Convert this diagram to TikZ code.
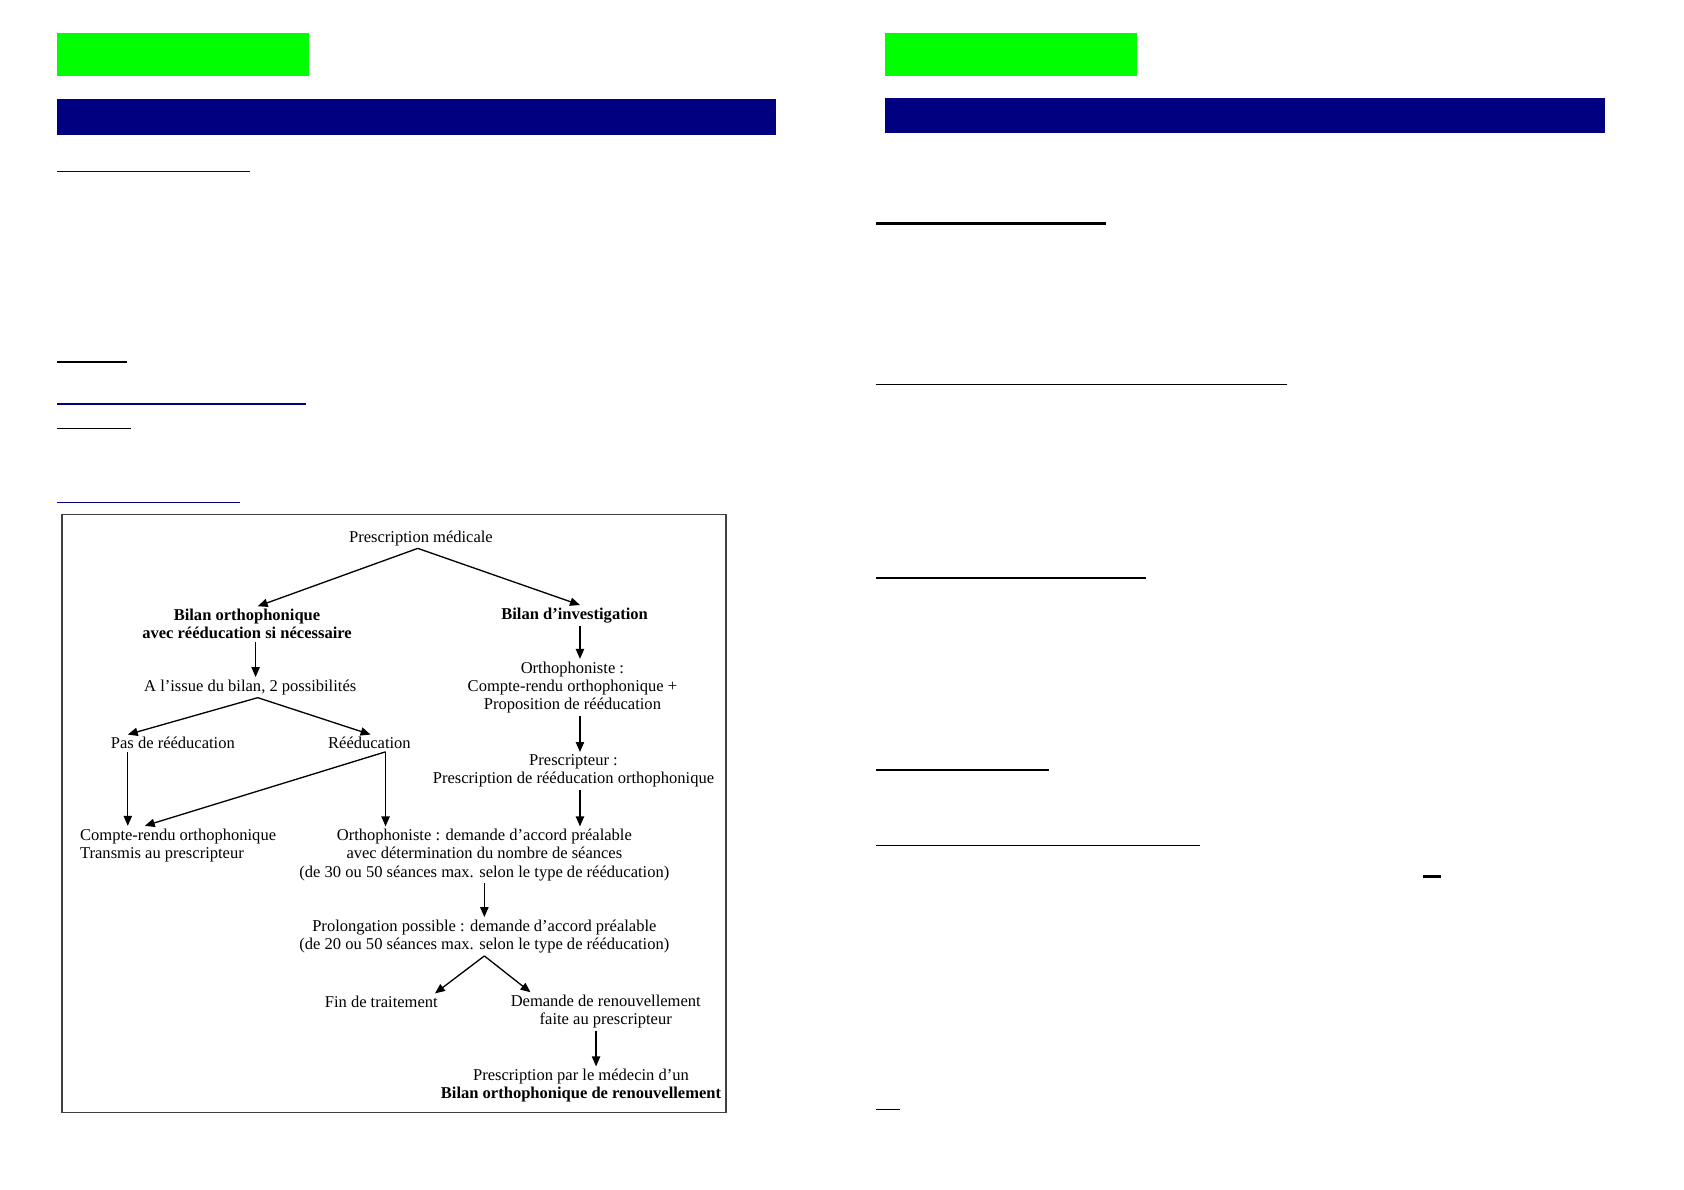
\documentclass[tikz,border=0pt]{standalone}
\usepackage{fontspec}
\setmainfont{Liberation Serif}
\usetikzlibrary{arrows.meta}
\usetikzlibrary{calc}
\definecolor{navy}{HTML}{000080}
\definecolor{lime}{HTML}{00FF00}

\begin{document}
\begin{tikzpicture}[x=0.65pt, y=-0.65pt,
    txt/.style={inner sep=1.5pt, align=center, font=\fontsize{10}{11}\selectfont},
    bold/.style={font=\fontsize{10}{11}\selectfont\bfseries},
    arr/.style={-{Triangle[length=6pt,width=5pt]}, line width=0.8pt},
    rule/.style={line width=0.7pt}]
    \useasboundingbox (0,0) rectangle (1568,1108);
    % page headers
    \fill[lime] (53,31) rectangle (288,71);
    \fill[navy] (53,92) rectangle (723,126);
    \fill[lime] (824,31) rectangle (1059,71);
    \fill[navy] (824,91) rectangle (1494,124);
    % underlines
    \draw[rule, navy] (53,160) -- (233,160);
    \draw[rule] (53,337) -- (118,337);
    \draw[rule, navy, line width=1.5pt] (53,376) -- (285,376);
    \draw[rule] (53,399) -- (122,399);
    \draw[rule, navy] (53,468) -- (223,468);
    \draw[rule, line width=1.5pt] (816,208) -- (1030,208);
    \draw[rule] (816,358) -- (1198,358);
    \draw[rule, line width=1pt] (816,538) -- (1067,538);
    \draw[rule] (816,717) -- (977,717);
    \draw[rule] (816,787) -- (1117,787);
    \draw[rule, line width=1.5pt] (1325,816) -- (1342,816);
    \draw[rule] (816,1033) -- (838,1033);
    % flowchart
    \draw[black!75, line width=1pt, fill=white] (58,479) rectangle (676,1036);

    \node[txt] (presc) at (392,501) {Prescription médicale};
    \node[txt, bold] (bortho) at (230,581) {Bilan orthophonique\\avec rééducation si nécessaire};
    \node[txt, bold] (binv) at (535,573) {Bilan d’investigation};
    \node[txt] (issue) at (233,640) {A l’issue du bilan, 2 possibilités};
    \node[txt] (pas) at (161,692) {Pas de rééducation};
    \node[txt] (reed) at (344,692) {Rééducation};
    \node[txt, anchor=west, align=left] (crendu) at (72,787) {Compte-rendu orthophonique\\Transmis au prescripteur};
    \node[txt] (ortho) at (533,640) {Orthophoniste :\\Compte-rendu orthophonique +\\Proposition de rééducation};
    \node[txt] (prescr) at (534,718) {Prescripteur :\\Prescription de rééducation orthophonique};
    \node[txt] (accord) at (451,796) {Orthophoniste : demande d’accord préalable\\avec détermination du nombre de séances\\(de 30 ou 50 séances max. selon le type de rééducation)};
    \node[txt] (prolong) at (451,872) {Prolongation possible : demande d’accord préalable\\(de 20 ou 50 séances max. selon le type de rééducation)};
    \node[txt] (fin) at (355,933) {Fin de traitement};
    \node[txt] (renouv) at (564,942) {Demande de renouvellement\\faite au prescripteur};
    \node[txt] (bren) at (541,1011) {Prescription par le médecin d’un\\\textbf{Bilan orthophonique de renouvellement}};

    \draw[arr] ($(presc.south)+(-3,0)$) -- ($(bortho.north)+(10,0)$);
    \draw[arr] ($(presc.south)+(-3,0)$) -- ($(binv.north)+(5,0)$);
    \draw[arr] ($(bortho.south)+(8,0)$) -- ($(issue.north)+(5,0)$);
    \draw[arr] ($(issue.south)+(7,0)$) -- ($(pas.north)+(-42,0)$);
    \draw[arr] ($(issue.south)+(7,0)$) -- ($(reed.north)+(1,0)$);
    \coordinate (pasout) at ($(pas.south)+(-42,0)$);
    \draw[arr] (pasout) -- (pasout |- crendu.north);
    \draw[arr] ($(reed.south)+(15,0)$) -- ($(crendu.north)+(-31,0)$);
    \draw[arr] ($(reed.south)+(15,0)$) -- ($(accord.north)+(-92,0)$);
    \draw[arr] ($(binv.south)+(5,0)$) -- ($(ortho.north)+(7,0)$);
    \draw[arr] ($(ortho.south)+(7,0)$) -- ($(prescr.north)+(6,0)$);
    \draw[arr] ($(prescr.south)+(6,0)$) -- ($(accord.north)+(89,0)$);
    \draw[arr] (accord) -- (prolong);
    \draw[arr] (prolong.south) -- ($(fin.north)+(50,0)$);
    \draw[arr] (prolong.south) -- ($(renouv.north)+(-70,0)$);
    \draw[arr] ($(renouv.south)+(-9,0)$) -- ($(bren.north)+(14,0)$);
\end{tikzpicture}
\end{document}
